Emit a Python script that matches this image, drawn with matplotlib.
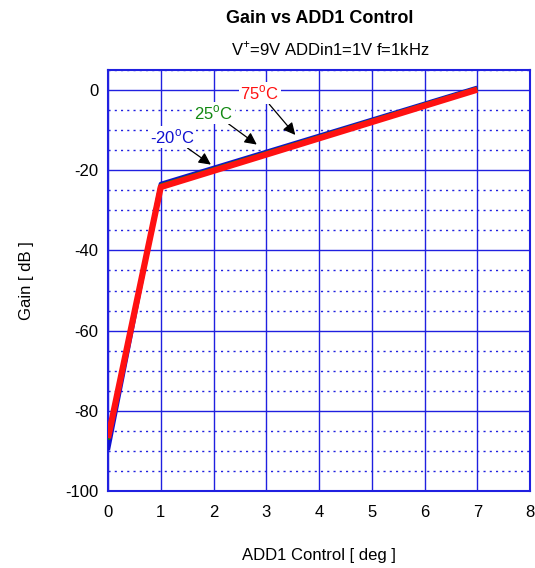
import numpy as np
import matplotlib
matplotlib.use('Agg')
import matplotlib.pyplot as plt
from matplotlib.ticker import MultipleLocator

plt.rcParams['font.family'] = ['Liberation Sans', 'DejaVu Sans']
plt.rcParams['mathtext.fontset'] = 'custom'
plt.rcParams['mathtext.rm'] = 'Liberation Sans'
plt.rcParams['axes.unicode_minus'] = False

# Dados
control = [0, 1, 7]
gain_m20 = [-89.8, -23.4, 0.6]
gain_25 = [-87.2, -23.8, 0.4]
gain_75 = [-86.8, -24.2, 0.1]

series = [
    ('-20$^{\\rm o}$C', gain_m20, '#1010d0', 3.0, (1.21, -11.7), (1.95, -18.6)),
    ('25$^{\\rm o}$C', gain_25, '#118811', 3.0, (2.0, -5.7), (2.82, -13.6)),
    ('75$^{\\rm o}$C', gain_75, '#ff1111', 4.5, (2.88, -0.8), (3.55, -11.2)),
]

fig = plt.figure(figsize=(5.35, 5.68), dpi=100)
ax = fig.add_axes([0.2019, 0.1356, 0.7888, 0.7412])

grid_col = '#2020e0'
ax.xaxis.set_major_locator(MultipleLocator(1))
ax.yaxis.set_major_locator(MultipleLocator(20))
ax.yaxis.set_minor_locator(MultipleLocator(5))
ax.grid(True, which='major', color=grid_col, linewidth=1.0)
ax.grid(True, which='minor', axis='y', color=grid_col, linewidth=1.0, linestyle=(0, (1.5, 3)))
ax.set_axisbelow(True)

for label, vals, col, lw, txt_pos, tip in series:
    ax.plot(control, vals, color=col, linewidth=lw, solid_capstyle='butt', zorder=3)
    ax.annotate(label, xy=tip, xytext=txt_pos, color=col, fontsize=12,
                ha='center', va='center',
                bbox=dict(boxstyle='square,pad=0.1', fc='white', ec='none'),
                arrowprops=dict(arrowstyle='-|>', color='black', lw=0.9,
                                mutation_scale=18, shrinkA=0, shrinkB=0),
                zorder=5)

ax.set_xlim(0, 8)
ax.set_ylim(-100, 5)
ax.set_yticks([0, -20, -40, -60, -80, -100])
ax.tick_params(axis='both', which='both', length=0, labelsize=12)
ax.tick_params(axis='x', pad=10)
ax.tick_params(axis='y', pad=7)
for s in ax.spines.values():
    s.set_color(grid_col)
    s.set_linewidth(1.5)

ax.set_xlabel('ADD1 Control [ deg ]', fontsize=12, labelpad=20)
ax.set_ylabel('Gain [ dB ]', fontsize=12, labelpad=22)
fig.text(0.598, 0.968, 'Gain vs ADD1 Control', ha='center', va='center',
         fontsize=13, fontweight='bold')
fig.text(0.617, 0.913, 'V$^{+}$=9V ADDin1=1V f=1kHz', ha='center', va='center',
         fontsize=12)

fig.savefig('out.png', dpi=100)
